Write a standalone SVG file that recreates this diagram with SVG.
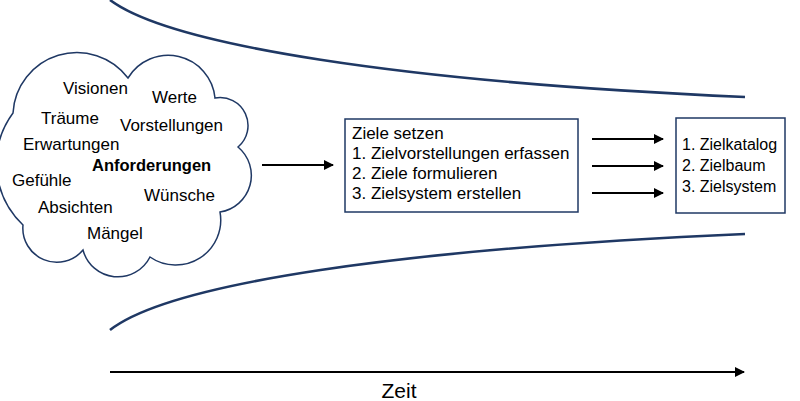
<svg xmlns="http://www.w3.org/2000/svg" width="800" height="401" viewBox="0 0 800 401">
<style>
.t{font-family:"Liberation Sans",Arial,sans-serif;font-size:17px;fill:#000}
.b{font-weight:bold;font-size:16.5px}
.box{fill:#fff;stroke:#1f3864;stroke-width:1.5}
.cloud{fill:#fff;stroke:#1f3864;stroke-width:1.5}
.funnel{fill:none;stroke:#1f3864;stroke-width:2.6}
.arr{stroke:#000;stroke-width:2;fill:none}
</style>
<defs>
<marker id="ah" viewBox="0 0 10 10" refX="9" refY="5" markerWidth="5" markerHeight="5" orient="auto" markerUnits="strokeWidth">
<path d="M0,0 L10,5 L0,10 z" fill="#000"/>
</marker>
</defs>
<g id="funnel">
<path class="funnel" d="M110,0 C170,45 400,82 745,97"/>
<path class="funnel" d="M110,330 C170,283 400,249 745,234"/>
</g>
<g id="cloud">
<path class="cloud" d="M13,113 A64,64 0 0 1 128,78 A47,47 0 0 1 215,98 A28,28 0 0 1 238,147 A37,37 0 0 1 220,212 A45,45 0 0 1 150,257 A36,36 0 0 1 83,250 A34,34 0 0 1 23,225 A85,85 0 0 1 13,113 Z"/>
<text class="t" x="63" y="94">Visionen</text>
<text class="t" x="152" y="103">Werte</text>
<text class="t" x="41" y="124">Träume</text>
<text class="t" x="120" y="131">Vorstellungen</text>
<text class="t" x="23" y="150">Erwartungen</text>
<text class="t b" x="92" y="171">Anforderungen</text>
<text class="t" x="12" y="186">Gefühle</text>
<text class="t" x="144" y="201">Wünsche</text>
<text class="t" x="38" y="213">Absichten</text>
<text class="t" x="87" y="239">Mängel</text>
</g>
<g id="ziele-setzen">
<rect class="box" x="345" y="119" width="233" height="93"/>
<text class="t" x="352" y="139">Ziele setzen</text>
<text class="t" x="352" y="159">1. Zielvorstellungen erfassen</text>
<text class="t" x="352" y="179">2. Ziele formulieren</text>
<text class="t" x="352" y="199">3. Zielsystem erstellen</text>
</g>
<g id="ergebnisse">
<rect class="box" x="676" y="118" width="109" height="95"/>
<text class="t" x="682" y="150" style="font-size:16px">1. Zielkatalog</text>
<text class="t" x="682" y="171" style="font-size:16px">2. Zielbaum</text>
<text class="t" x="682" y="192" style="font-size:16px">3. Zielsystem</text>
</g>
<g id="connectors">
<line class="arr" x1="262" y1="165" x2="333" y2="165" marker-end="url(#ah)"/>
<line class="arr" x1="592" y1="139" x2="663" y2="139" marker-end="url(#ah)"/>
<line class="arr" x1="592" y1="166" x2="663" y2="166" marker-end="url(#ah)"/>
<line class="arr" x1="592" y1="193" x2="663" y2="193" marker-end="url(#ah)"/>
<line class="arr" x1="110" y1="372" x2="744" y2="372" marker-end="url(#ah)"/>
</g>
<g id="zeit">
<text class="t" x="399" y="398" text-anchor="middle" style="font-size:21px">Zeit</text>
</g>
</svg>
